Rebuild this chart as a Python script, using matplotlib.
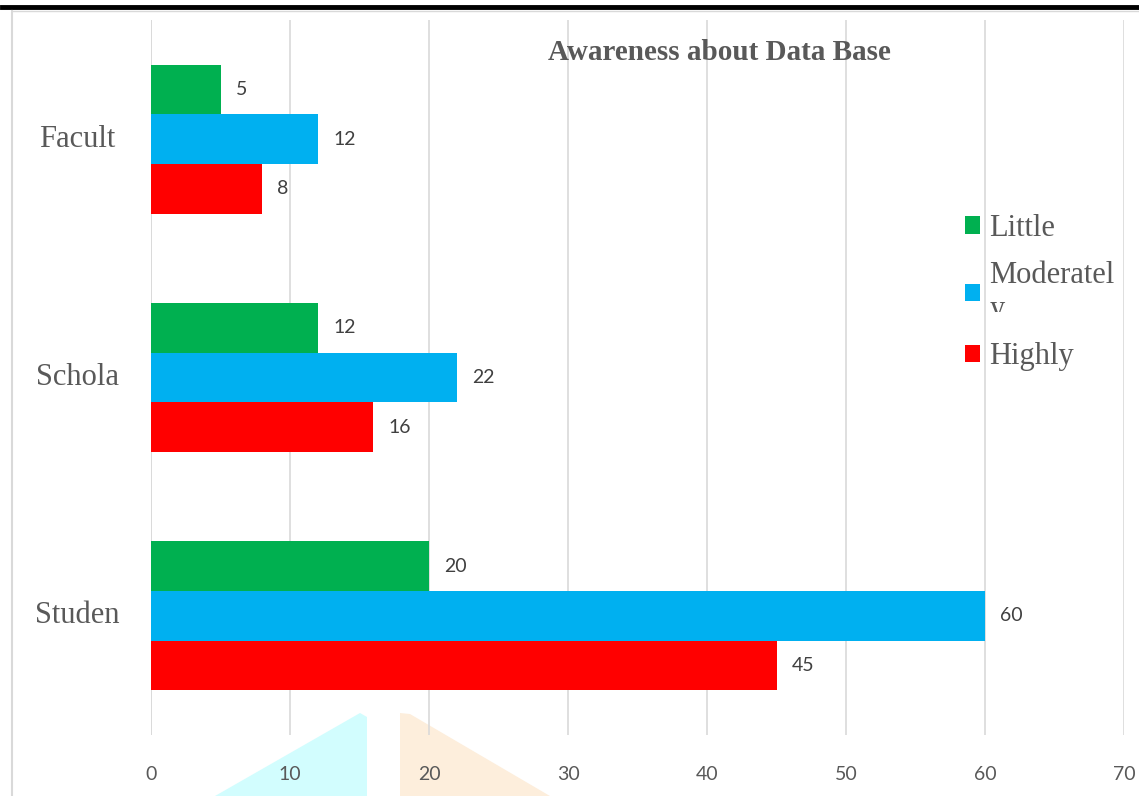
import matplotlib
matplotlib.use("Agg")
import matplotlib.pyplot as plt
import numpy as np
from matplotlib.patches import Polygon
from matplotlib.lines import Line2D
from matplotlib.transforms import Bbox, TransformedBbox

# data (bottom to top as drawn)
groups = ["Studen", "Schola", "Facult"]
little = [20, 12, 5]
moderately = [60, 22, 12]
highly = [45, 16, 8]
series_names = ["Little", "Moderatel\ny", "Highly"]
colors = ["#00B050", "#00B0F0", "#FF0000"]
x_ticks = [0, 10, 20, 30, 40, 50, 60, 70]

W, H = 1139, 796
fig = plt.figure(figsize=(W / 100, H / 100), dpi=100, facecolor="white")
ax = fig.add_axes([151 / W, 1 - 735 / H, (1124 - 151) / W, (735 - 20) / H])
ax.patch.set_alpha(0)

y = np.arange(len(groups))
h = 0.208
for vals, off, col, name in zip([little, moderately, highly], [h, 0, -h], colors, series_names):
    b = ax.barh(y + off, vals, height=h, color=col, label=name, zorder=3)
    for rect, v in zip(b, vals):
        ax.annotate(str(v), (rect.get_width(), rect.get_y() + rect.get_height() / 2),
                    xytext=(11, 0), textcoords="offset points", va="center", ha="left",
                    fontsize=14, family="Lato", color="#404040")

ax.set_xlim(0, 70)
ax.set_ylim(-0.5, 2.5)
ax.set_xticks(x_ticks)
ax.set_xticklabels([str(t) for t in x_ticks], fontsize=14, family="Lato", color="#595959")
ax.set_yticks(y)
ax.set_yticklabels(groups, fontsize=22, family="Liberation Serif", color="#595959", ha="center",
                   va="center")
ax.tick_params(axis="x", length=0, pad=22)
ax.tick_params(axis="y", length=0, pad=53)
ax.grid(axis="x", color="#D9D9D9", linewidth=1.2, zorder=0)
for s in ax.spines.values():
    s.set_visible(False)
ax.axvline(0, color="#D9D9D9", linewidth=1.2, zorder=1)

ax.text(0.584, 1 - (52 - 20) / (735 - 20), "Awareness about Data Base", transform=ax.transAxes,
        ha="center", va="center", fontsize=21, fontweight="bold", family="Liberation Serif",
        color="#595959")

leg = ax.legend(loc="upper left", bbox_to_anchor=((965 - 151) / 973, 1 - (214 - 20) / 715),
                frameon=False, prop={"family": "Liberation Serif", "size": 22},
                handlelength=0.5, handleheight=0.5, handletextpad=0.3, labelspacing=0.6,
                borderpad=0, borderaxespad=0)
for t in leg.get_texts():
    t.set_color("#595959")
# the wrapped "y" of "Moderately" is cut off in the original
clip = TransformedBbox(Bbox([[0, 1 - 312 / H], [1, 1]]), fig.transFigure)
leg.get_texts()[1].set_clip_box(clip)
leg.get_texts()[1].set_clip_on(True)

# page decorations around the chart
fig.add_artist(Line2D([2 / W, 1], [1 - 7 / H, 1 - 7 / H], color="black", linewidth=3.5))
fig.add_artist(Line2D([12 / W, 1], [1 - 11 / H, 1 - 11 / H], color="#D9D9D9", linewidth=1))
fig.add_artist(Line2D([12 / W, 12 / W], [0, 1 - 11 / H], color="#D9D9D9", linewidth=1.5))
fig.add_artist(Polygon([[215 / W, 0], [360 / W, 1 - 713 / H], [367 / W, 1 - 717 / H], [367 / W, 0]],
                       closed=True, facecolor="#D2FDFE", edgecolor="none", zorder=-1))
fig.add_artist(Polygon([[400 / W, 0], [400 / W, 1 - 713 / H], [410 / W, 1 - 714 / H], [550 / W, 0]],
                       closed=True, facecolor="#FDEEDC", edgecolor="none", zorder=-1))

fig.savefig("out.png", dpi=100, facecolor="white")
